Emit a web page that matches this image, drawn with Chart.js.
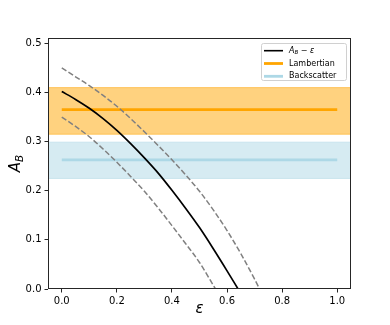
<!DOCTYPE html>
<html>
<head>
<meta charset="utf-8">
<script src="https://cdn.jsdelivr.net/npm/chart.js@4/dist/chart.umd.min.js"></script>
<style>
html,body{margin:0;padding:0;background:#fff;}
#c{display:block;}
</style>
</head>
<body>
<canvas id="c" width="390" height="325"></canvas>
<script>
// ---- data ----
const epsMid = [0, 0.05, 0.10, 0.15, 0.20, 0.25, 0.30, 0.35, 0.40, 0.45, 0.50, 0.55, 0.60, 0.64];
const abMid  = [0.402, 0.386, 0.368, 0.347, 0.323, 0.296, 0.267, 0.236, 0.201, 0.164, 0.125, 0.082, 0.037, 0.0];

const epsUpper = [0, 0.05, 0.10, 0.15, 0.20, 0.25, 0.30, 0.35, 0.40, 0.45, 0.50, 0.55, 0.60, 0.65, 0.70, 0.718];
const abUpper  = [0.450, 0.432, 0.414, 0.394, 0.372, 0.347, 0.320, 0.292, 0.263, 0.232, 0.199, 0.161, 0.119, 0.072, 0.020, 0.0];

const epsLower = [0, 0.05, 0.10, 0.15, 0.20, 0.25, 0.30, 0.35, 0.40, 0.45, 0.50, 0.558];
const abLower  = [0.350, 0.331, 0.310, 0.285, 0.258, 0.229, 0.199, 0.165, 0.129, 0.092, 0.054, 0.0];

const lambertian  = [0.365, 0.315, 0.410];   // mean, low, high
const backscatter = [0.263, 0.225, 0.299];   // mean, low, high
const lineRange   = [0, 1];                  // epsilon span of horizontal lines
const bandRange   = [-0.05, 1.05];           // epsilon span of shaded bands

const xTicks = [0, 0.2, 0.4, 0.6, 0.8, 1.0];
const yTicks = [0, 0.1, 0.2, 0.3, 0.4, 0.5];
const xRange = [-0.05, 1.05];
const yRange = [0, 0.511];

const legendLabels = ['A_B − ε', 'Lambertian', 'Backscatter'];

// ---- helpers ----
const pts = (xs, ys) => xs.map((x, i) => ({x: x, y: ys[i]}));
const flat = (xs, y) => xs.map(x => ({x: x, y: y}));

const ORANGE = 'rgb(255,165,0)';
const ORANGE_A = 'rgba(255,165,0,0.5)';
const BLUE = 'rgb(173,216,230)';
const BLUE_A = 'rgba(173,216,230,0.5)';
const GRAY = 'rgb(128,128,128)';
const AXIS = '#262626';
const FONT = "'DejaVu Sans', sans-serif";

function drawRich(ctx, parts, x, y, size) {
  let cx = x;
  for (const p of parts) {
    const fs = p.sub ? size * 0.7 : size;
    ctx.font = (p.it ? 'italic ' : '') + fs + 'px ' + FONT;
    ctx.fillText(p.t, cx, y + (p.sub ? size * 0.22 : 0));
    cx += ctx.measureText(p.t).width;
  }
  return cx - x;
}
function richWidth(ctx, parts, size) {
  let w = 0;
  for (const p of parts) {
    const fs = p.sub ? size * 0.7 : size;
    ctx.font = (p.it ? 'italic ' : '') + fs + 'px ' + FONT;
    w += ctx.measureText(p.t).width;
  }
  return w;
}

const decorPlugin = {
  id: 'decor',
  afterDraw(chart) {
    const ctx = chart.ctx;
    const a = chart.chartArea;
    ctx.save();
    ctx.strokeStyle = AXIS;
    ctx.lineWidth = 1;
    ctx.strokeRect(Math.round(a.left) + 0.5, Math.round(a.top) + 0.5,
                   Math.round(a.right - a.left) - 1, Math.round(a.bottom - a.top) - 1);

    ctx.fillStyle = '#000';
    ctx.textBaseline = 'alphabetic';
    const yParts = [{t: 'A', it: true}, {t: 'B', it: true, sub: true}];
    ctx.save();
    ctx.translate(19.5, (a.top + a.bottom) / 2);
    ctx.rotate(-Math.PI / 2);
    const yw = richWidth(ctx, yParts, 15);
    drawRich(ctx, yParts, -yw / 2, 0, 15);
    ctx.restore();

    const xParts = [{t: 'ε', it: true}];
    const xw = richWidth(ctx, xParts, 15);
    drawRich(ctx, xParts, (a.left + a.right) / 2 - xw / 2, 313, 15);

    const lx = 261, ly = 43, lw = 85, lh = 37;
    ctx.beginPath();
    if (ctx.roundRect) ctx.roundRect(lx + 0.5, ly + 0.5, lw, lh, 2); else ctx.rect(lx + 0.5, ly + 0.5, lw, lh);
    ctx.fillStyle = 'rgba(255,255,255,0.85)';
    ctx.fill();
    ctx.strokeStyle = '#d0d0d0';
    ctx.lineWidth = 1;
    ctx.stroke();

    const rows = [50.7, 63.5, 76.3];
    const styles = [{c: '#000', w: 1.6}, {c: ORANGE, w: 2.8}, {c: BLUE, w: 2.8}];
    for (let i = 0; i < 3; i++) {
      ctx.beginPath();
      ctx.strokeStyle = styles[i].c;
      ctx.lineWidth = styles[i].w;
      ctx.moveTo(264, rows[i]);
      ctx.lineTo(283, rows[i]);
      ctx.stroke();
    }
    ctx.fillStyle = '#000';
    ctx.textBaseline = 'middle';
    const lp = legendLabels[0].split('_');
    const rest = lp[1].split(' − ');
    drawRich(ctx, [{t: lp[0], it: true}, {t: rest[0], it: true, sub: true},
                   {t: ' − '}, {t: rest[1], it: true}], 289, rows[0], 8);
    ctx.font = '8px ' + FONT;
    ctx.fillText(legendLabels[1], 289, rows[1]);
    ctx.fillText(legendLabels[2], 289, rows[2]);
    ctx.restore();
  }
};

new Chart(document.getElementById('c'), {
  type: 'scatter',
  data: {
    datasets: [
      {data: pts(epsMid, abMid), showLine: true, borderColor: '#000', borderWidth: 1.7,
       pointRadius: 0, cubicInterpolationMode: 'monotone', order: 0},
      {data: pts(epsUpper, abUpper), showLine: true, borderColor: GRAY, borderWidth: 1.5,
       borderDash: [5.5, 2.4], pointRadius: 0, cubicInterpolationMode: 'monotone', order: 0},
      {data: pts(epsLower, abLower), showLine: true, borderColor: GRAY, borderWidth: 1.5,
       borderDash: [5.5, 2.4], pointRadius: 0, cubicInterpolationMode: 'monotone', order: 0},
      {data: flat(lineRange, lambertian[0]), showLine: true, borderColor: ORANGE, borderWidth: 2.8,
       pointRadius: 0, order: 2},
      {data: flat(lineRange, backscatter[0]), showLine: true, borderColor: BLUE, borderWidth: 2.8,
       pointRadius: 0, order: 2},
      {data: flat(bandRange, lambertian[2]), showLine: true, borderColor: ORANGE_A, borderWidth: 1,
       backgroundColor: ORANGE_A, fill: '+1', pointRadius: 0, order: 5},
      {data: flat(bandRange, lambertian[1]), showLine: true, borderColor: ORANGE_A, borderWidth: 1,
       fill: false, pointRadius: 0, order: 5},
      {data: flat(bandRange, backscatter[2]), showLine: true, borderColor: BLUE_A, borderWidth: 1,
       backgroundColor: BLUE_A, fill: '+1', pointRadius: 0, order: 5},
      {data: flat(bandRange, backscatter[1]), showLine: true, borderColor: BLUE_A, borderWidth: 1,
       fill: false, pointRadius: 0, order: 5}
    ]
  },
  options: {
    responsive: false,
    animation: false,
    devicePixelRatio: 1,
    layout: {padding: {left: 0, top: 38, right: 39, bottom: 0}},
    plugins: {legend: {display: false}, tooltip: {enabled: false}},
    scales: {
      x: {
        type: 'linear', min: xRange[0], max: xRange[1],
        afterBuildTicks: s => { s.ticks = xTicks.map(v => ({value: v})); },
        afterFit: s => { s.height = 36; },
        border: {display: false},
        grid: {display: true, drawOnChartArea: false, drawTicks: true, tickLength: 3.5, color: AXIS},
        ticks: {color: '#000', font: {family: FONT, size: 10}, padding: 2.5,
                maxRotation: 0, callback: v => v.toFixed(1)}
      },
      y: {
        type: 'linear', min: yRange[0], max: yRange[1],
        afterBuildTicks: s => { s.ticks = yTicks.map(v => ({value: v})); },
        afterFit: s => { s.width = 48; },
        border: {display: false},
        grid: {display: true, drawOnChartArea: false, drawTicks: true, tickLength: 3.5, color: AXIS},
        ticks: {color: '#000', font: {family: FONT, size: 10}, padding: 3,
                callback: v => v.toFixed(1)}
      }
    }
  },
  plugins: [decorPlugin]
});
</script>
</body>
</html>
